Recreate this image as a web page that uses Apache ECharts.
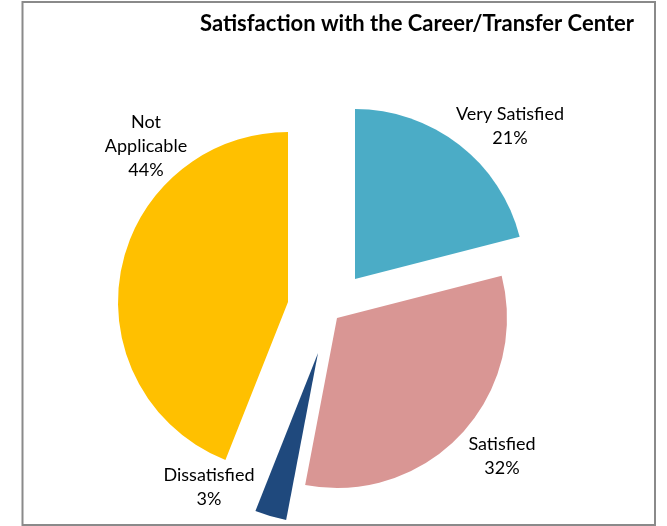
<!DOCTYPE html>
<html>
<head>
<meta charset="utf-8">
<script src="https://cdn.jsdelivr.net/npm/echarts@6/dist/echarts.min.js"></script>
<style>
  html, body { margin: 0; padding: 0; background: #fff; }
  #chart { width: 667px; height: 526px; }
</style>
</head>
<body>
<div id="chart"></div>
<script>
// data
const categories = ['Very Satisfied', 'Satisfied', 'Dissatisfied', 'Not Applicable']
const percents = [21, 32, 3, 44]
const colors = ['#4BACC6', '#D99694', '#1F497D', '#FFC000']

// exploded layout: where each slice's apex sits, and where its label sits
const sliceCenters = [[355, 279], [337, 318], [318, 353], [288, 302]]
const labelPos = [[510, 126], [502, 456], [209, 487], [146, 146]]

const chart = echarts.init(document.getElementById('chart'))

// one series per slice so each one can be pulled out by its own amount
const series = categories.map((name, i) => ({
  type: 'pie',
  silent: true,
  radius: 170,
  center: sliceCenters[i],
  startAngle: 90,
  clockwise: true,
  animation: false,
  avoidLabelOverlap: false,
  labelLine: { show: false },
  emphasis: { disabled: true },
  label: {
    show: true,
    position: 'outside',
    fontFamily: 'Lato',
    fontSize: 18,
    lineHeight: 24,
    color: '#000',
    align: 'center',
    formatter: p => (p.name === 'Not Applicable' ? 'Not\nApplicable' : p.name) + '\n' + Math.round(p.percent) + '%'
  },
  labelLayout: () => ({ x: labelPos[i][0], y: labelPos[i][1], align: 'center', verticalAlign: 'middle' }),
  data: categories.map((n, j) => ({
    name: n,
    value: percents[j],
    itemStyle: { color: j === i ? colors[j] : 'rgba(0,0,0,0)' },
    label: { show: j === i }
  }))
}))

chart.setOption({
  backgroundColor: '#fff',
  title: {
    text: 'Satisfaction with the Career/Transfer Center',
    left: 195,
    top: 8,
    textStyle: { fontFamily: 'Lato', fontWeight: 'bold', fontSize: 22, color: '#000' }
  },
  graphic: [{
    type: 'rect',
    shape: { x: 22.5, y: 2, width: 632.5, height: 523 },
    style: { fill: null, stroke: '#8a8a8a', lineWidth: 2 },
    z: 100
  }],
  series: series
})
</script>
</body>
</html>
